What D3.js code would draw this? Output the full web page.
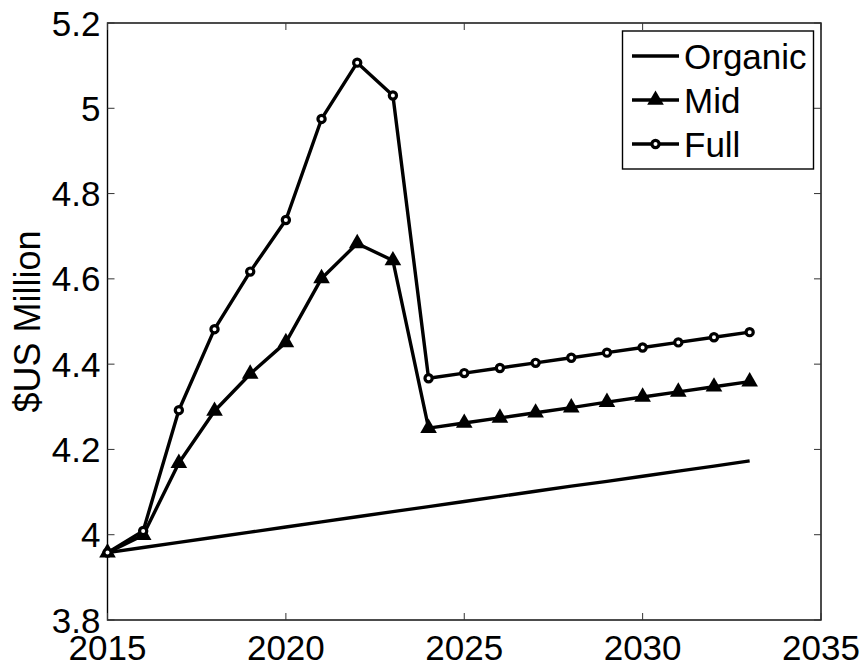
<!DOCTYPE html>
<html>
<head>
<meta charset="utf-8">
<script src="https://cdn.jsdelivr.net/npm/d3@7"></script>
<style>
  body { margin: 0; background: #fff; }
  text { font-family: "Liberation Sans", Arial, sans-serif; fill: #000; }
</style>
</head>
<body>
<div id="chart"></div>
<script>
// Datos
const years = [2015, 2016, 2017, 2018, 2019, 2020, 2021, 2022, 2023, 2024,
               2025, 2026, 2027, 2028, 2029, 2030, 2031, 2032, 2033];
const organic = [3.958, 3.970, 3.982, 3.994, 4.006, 4.018, 4.030, 4.042, 4.054, 4.066,
                 4.078, 4.090, 4.102, 4.114, 4.125, 4.137, 4.149, 4.161, 4.173];
const mid = [3.958, 3.999, 4.168, 4.290, 4.377, 4.451, 4.601, 4.683, 4.643, 4.250,
             4.262, 4.274, 4.286, 4.298, 4.311, 4.323, 4.335, 4.347, 4.359];
const full = [3.958, 4.009, 4.292, 4.482, 4.617, 4.738, 4.975, 5.107, 5.030, 4.367,
              4.379, 4.391, 4.403, 4.415, 4.427, 4.439, 4.451, 4.463, 4.475];
const xTicks = [2015, 2020, 2025, 2030, 2035];
const yTicks = [3.8, 4, 4.2, 4.4, 4.6, 4.8, 5, 5.2];
const seriesNames = ["Organic", "Mid", "Full"];

const width = 864, height = 669;
const margin = { left: 107.5, right: 43, top: 23, bottom: 49 };

const svg = d3.select("#chart").append("svg")
    .attr("width", width)
    .attr("height", height);

const x = d3.scaleLinear().domain([2015, 2035]).range([margin.left, width - margin.right]);
const y = d3.scaleLinear().domain([3.8, 5.2]).range([height - margin.bottom, margin.top]);

const fontSize = 35;
const tickLen = 7;

// Marco de los ejes
svg.append("rect")
    .attr("x", x(2015)).attr("y", y(5.2))
    .attr("width", x(2035) - x(2015)).attr("height", y(3.8) - y(5.2))
    .attr("fill", "none").attr("stroke", "#000").attr("stroke-width", 1.4);

// Marcas hacia dentro en los cuatro lados
const g = svg.append("g").attr("stroke", "#333").attr("stroke-width", 1);
xTicks.forEach(t => {
    g.append("line").attr("x1", x(t)).attr("x2", x(t))
        .attr("y1", y(3.8)).attr("y2", y(3.8) - tickLen);
    g.append("line").attr("x1", x(t)).attr("x2", x(t))
        .attr("y1", y(5.2)).attr("y2", y(5.2) + tickLen);
});
yTicks.forEach(t => {
    g.append("line").attr("x1", x(2015)).attr("x2", x(2015) + tickLen)
        .attr("y1", y(t)).attr("y2", y(t));
    g.append("line").attr("x1", x(2035)).attr("x2", x(2035) - tickLen)
        .attr("y1", y(t)).attr("y2", y(t));
});

// Etiquetas de las marcas
svg.selectAll(".xlabel")
    .data(xTicks)
    .enter()
    .append("text")
    .attr("x", d => x(d))
    .attr("y", y(3.8) + 40)
    .attr("text-anchor", "middle")
    .style("font-size", fontSize + "px")
    .text(d => d);

svg.selectAll(".ylabel")
    .data(yTicks)
    .enter()
    .append("text")
    .attr("x", x(2015) - 7)
    .attr("y", d => y(d) + 12.5)
    .attr("text-anchor", "end")
    .style("font-size", fontSize + "px")
    .text(d => d3.format("")(d));

svg.append("text")
    .attr("transform", `translate(40,${(y(3.8) + y(5.2)) / 2}) rotate(-90)`)
    .attr("text-anchor", "middle")
    .style("font-size", "36px")
    .text("$US Million");

// Líneas
const line = d3.line().x(d => x(d[0])).y(d => y(d[1]));
const allSeries = [organic, mid, full].map(vals => years.map((yr, i) => [yr, vals[i]]));

allSeries.forEach(pts => {
    svg.append("path")
        .datum(pts)
        .attr("d", line)
        .attr("fill", "none")
        .attr("stroke", "#000")
        .attr("stroke-width", 3.4)
        .attr("stroke-linejoin", "round");
});

// Marcadores
const tri = d3.symbol().type(d3.symbolTriangle).size(120);
svg.selectAll(".tri")
    .data(allSeries[1])
    .enter()
    .append("path")
    .attr("transform", d => `translate(${x(d[0])},${y(d[1])})`)
    .attr("d", tri)
    .attr("fill", "#000");

svg.selectAll(".circ")
    .data(allSeries[2])
    .enter()
    .append("circle")
    .attr("cx", d => x(d[0]))
    .attr("cy", d => y(d[1]))
    .attr("r", 3.6)
    .attr("fill", "#fff")
    .attr("stroke", "#000")
    .attr("stroke-width", 3.2);

// Leyenda
const lg = svg.append("g");
lg.append("rect")
    .attr("x", 622.5).attr("y", 31)
    .attr("width", 191).attr("height", 138)
    .attr("fill", "#fff").attr("stroke", "#000").attr("stroke-width", 1.4);

const rowY = [56, 100, 144];
seriesNames.forEach((name, i) => {
    lg.append("line")
        .attr("x1", 632).attr("x2", 679)
        .attr("y1", rowY[i]).attr("y2", rowY[i])
        .attr("stroke", "#000").attr("stroke-width", 3.4);
    if (name === "Mid") {
        lg.append("path")
            .attr("transform", `translate(655.5,${rowY[i]})`)
            .attr("d", tri).attr("fill", "#000");
    } else if (name === "Full") {
        lg.append("circle")
            .attr("cx", 655.5).attr("cy", rowY[i]).attr("r", 3.6)
            .attr("fill", "#fff").attr("stroke", "#000").attr("stroke-width", 3.2);
    }
    lg.append("text")
        .attr("x", 684)
        .attr("y", rowY[i] + 12.5)
        .style("font-size", fontSize + "px")
        .text(name);
});
</script>
</body>
</html>
